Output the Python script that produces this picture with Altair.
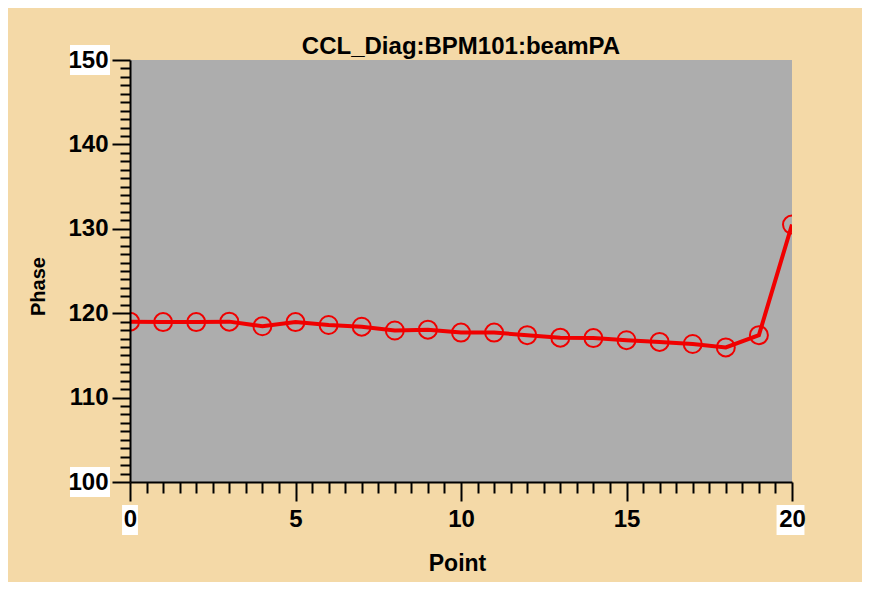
import altair as alt
import pandas as pd

# ---- data ----
points = list(range(21))
phase = [119.0, 118.95, 118.95, 119.0, 118.45, 118.95, 118.6, 118.4, 117.95, 118.05,
         117.7, 117.7, 117.4, 117.1, 117.05, 116.8, 116.6, 116.35, 115.95, 117.4, 130.5]

chart_title = "CCL_Diag:BPM101:beamPA"
x_title = "Point"
y_title = "Phase"
x_domain = [0, 20]
y_domain = [100, 150]
x_tick_values = [i * 0.5 for i in range(41)]
y_tick_values = list(range(100, 151))

df = pd.DataFrame({"Point": points, "Phase": phase})

# white label boxes behind the end labels of each axis (as in the reference)
box_x = [x_domain[0], x_domain[0], x_domain[0], x_domain[1]]
box_y = [y_domain[1], y_domain[0], y_domain[0], y_domain[0]]
box_kind = ["ylab", "ylab", "xlab0", "xlab20"]
boxes = pd.DataFrame({"Point": box_x, "Phase": box_y, "kind": box_kind})

FONT = "Liberation Sans, Arial, Helvetica, sans-serif"
RED = "#F00000"

x_scale = alt.Scale(domain=x_domain, nice=False, zero=False)
y_scale = alt.Scale(domain=y_domain, nice=False, zero=False)

x_axis = alt.Axis(
    title=x_title,
    values=x_tick_values,
    labelExpr="datum.value % 5 === 0 ? format(datum.value, 'd') : ''",
    tickSize={"condition": {"test": "datum.value % 5 === 0", "value": 19}, "value": 11},
    labelPadding=6,
    titleX=327,
    titleY=81,
    titleBaseline="middle",
    titleFontSize=23,
    zindex=1,
)
y_axis = alt.Axis(
    title=y_title,
    values=y_tick_values,
    labelExpr="datum.value % 10 === 0 ? format(datum.value, 'd') : ''",
    tickSize={"condition": {"test": "datum.value % 10 === 0", "value": 18}, "value": 10},
    labelPadding=4,
    titleX=-92,
    titleY=226,
    titleAngle=270,
    titleAlign="center",
    titleBaseline="middle",
    titleFontSize=20,
    zindex=1,
)

x_enc = alt.X("Point:Q", scale=x_scale, axis=x_axis)
y_enc = alt.Y("Phase:Q", scale=y_scale, axis=y_axis)

base = alt.Chart(df).encode(x=x_enc, y=y_enc)

line = base.mark_line(color=RED, strokeWidth=4, clip=True)
pts = base.mark_point(shape="circle", filled=False, color=RED, strokeWidth=2,
                      size=324, opacity=1, clip=True)

def box_layer(kind, path, size, dx, dy):
    return (
        alt.Chart(boxes)
        .transform_filter(alt.datum.kind == kind)
        .mark_point(shape=path, filled=True, color="white", opacity=1, size=size,
                    strokeWidth=0, xOffset=dx, yOffset=dy)
        .encode(x=x_enc, y=y_enc)
    )

ybox = box_layer("ylab", "M -1 -0.75 L 1 -0.75 L 1 0.75 L -1 0.75 Z", 1600, -40, 0)
xbox0 = box_layer("xlab0", "M -0.53 -1 L 0.53 -1 L 0.53 1 L -0.53 1 Z", 900, 0, 38)
xbox20 = box_layer("xlab20", "M -0.93 -1 L 0.93 -1 L 0.93 1 L -0.93 1 Z", 900, -1.5, 38)

chart = (
    alt.layer(line, pts, ybox, xbox0, xbox20)
    .properties(
        width=662,
        height=422,
        title=alt.TitleParams(chart_title, anchor="middle", offset=-14),
        autosize=alt.AutoSizeParams(type="none"),
        padding={"left": 122, "top": 52, "right": 70, "bottom": 100},
        background="#F4D9A7",
    )
    .configure_view(fill="#ADADAD", strokeWidth=0)
    .configure_axis(
        grid=False,
        domainColor="black",
        domainWidth=2,
        tickColor="black",
        tickWidth=2,
        labelFont=FONT,
        labelFontSize=24,
        labelFontWeight="bold",
        labelColor="black",
        labelOverlap=False,
        labelFlush=False,
        titleFont=FONT,
        titleFontWeight="bold",
        titleColor="black",
    )
    .configure_title(font=FONT, fontSize=24, fontWeight="bold", color="black")
)

chart.save("out.html", embed_options={"renderer": "svg", "actions": False})
